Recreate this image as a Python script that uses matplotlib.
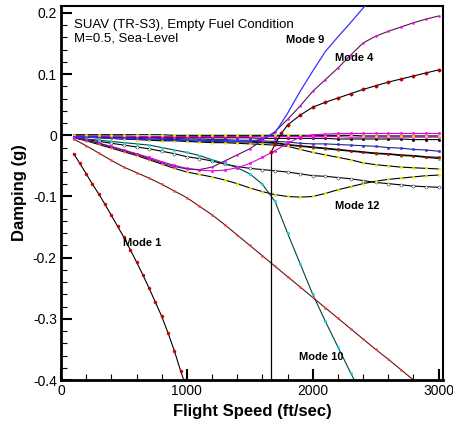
import matplotlib
matplotlib.use('Agg')
import matplotlib.pyplot as plt
from matplotlib.ticker import MultipleLocator

plt.rcParams['font.family'] = ['Liberation Sans', 'DejaVu Sans']

# ---- data (speed in ft/sec, damping g) ----
speed = [100, 200, 300, 400, 500, 600, 700, 800, 900, 1000,
         1100, 1200, 1300, 1400, 1500, 1600, 1700, 1800, 1900, 2000,
         2100, 2200, 2300, 2400, 2500, 2600, 2700, 2800, 2900, 3000]

mode4 = [-0.003, -0.008, -0.013, -0.019, -0.025, -0.031, -0.038, -0.045, -0.051, -0.055,
         -0.056, -0.052, -0.042, -0.032, -0.022, -0.008, 0.006, 0.026, 0.048, 0.072,
         0.091, 0.110, 0.131, 0.151, 0.162, 0.170, 0.177, 0.184, 0.190, 0.195]
pink = [-0.003, -0.008, -0.013, -0.018, -0.024, -0.030, -0.036, -0.043, -0.049, -0.054,
        -0.057, -0.058, -0.057, -0.053, -0.046, -0.036, -0.025, -0.013, -0.003, 0.001,
        0.002, 0.003, 0.003, 0.003, 0.003, 0.003, 0.003, 0.003, 0.003, 0.003]
mode12 = [-0.004, -0.009, -0.015, -0.021, -0.027, -0.033, -0.040, -0.047, -0.054, -0.060,
          -0.064, -0.068, -0.073, -0.079, -0.086, -0.092, -0.097, -0.100, -0.101, -0.100,
          -0.095, -0.089, -0.084, -0.079, -0.075, -0.072, -0.070, -0.068, -0.066, -0.065]
open_black = [-0.004, -0.007, -0.010, -0.013, -0.016, -0.019, -0.022, -0.026, -0.030, -0.035,
              -0.038, -0.042, -0.047, -0.051, -0.054, -0.056, -0.058, -0.060, -0.063, -0.066,
              -0.067, -0.069, -0.071, -0.074, -0.077, -0.079, -0.081, -0.083, -0.084, -0.085]
yellow2 = [-0.002, -0.003, -0.004, -0.005, -0.006, -0.007, -0.008, -0.009, -0.009, -0.010,
           -0.011, -0.012, -0.012, -0.013, -0.014, -0.015, -0.016, -0.018, -0.023, -0.028,
           -0.032, -0.036, -0.040, -0.045, -0.048, -0.050, -0.052, -0.053, -0.054, -0.055]
green = [-0.002, -0.003, -0.004, -0.005, -0.006, -0.006, -0.007, -0.008, -0.008, -0.009,
         -0.009, -0.010, -0.010, -0.011, -0.011, -0.012, -0.013, -0.016, -0.018, -0.020,
         -0.022, -0.024, -0.026, -0.028, -0.030, -0.031, -0.033, -0.034, -0.036, -0.038]
red_flat = [-0.001, -0.002, -0.003, -0.004, -0.005, -0.005, -0.006, -0.007, -0.007, -0.008,
            -0.008, -0.009, -0.009, -0.010, -0.010, -0.011, -0.012, -0.015, -0.017, -0.019,
            -0.021, -0.023, -0.025, -0.027, -0.029, -0.030, -0.032, -0.033, -0.035, -0.036]
blue_flat = [-0.001, -0.002, -0.002, -0.003, -0.003, -0.004, -0.004, -0.005, -0.005, -0.006,
             -0.006, -0.007, -0.007, -0.008, -0.008, -0.009, -0.010, -0.011, -0.013, -0.014,
             -0.014, -0.015, -0.016, -0.017, -0.018, -0.020, -0.021, -0.023, -0.024, -0.026]
yellow_zero = [0.001, 0.001, 0.001, 0.001, 0.001, 0.001, 0.001, 0.001, 0.000, 0.000,
               0.000, 0.000, 0.000, 0.000, 0.000, 0.000, 0.000, 0.000, 0.000, 0.000,
               0.000, 0.000, 0.000, -0.001, -0.001, -0.001, -0.001, -0.001, -0.001, -0.001]
pink_flat = [-0.001, -0.001, -0.001, -0.001, -0.001, -0.002, -0.002, -0.002, -0.002, -0.002,
             -0.002, -0.002, -0.002, -0.002, -0.002, -0.002, -0.002, -0.002, -0.002, -0.002,
             -0.002, -0.002, -0.003, -0.003, -0.003, -0.003, -0.003, -0.003, -0.003, -0.003]
black_flat = [-0.002, -0.002, -0.003, -0.003, -0.003, -0.003, -0.003, -0.004, -0.004, -0.004,
              -0.004, -0.004, -0.004, -0.004, -0.004, -0.005, -0.005, -0.005, -0.005, -0.005,
              -0.005, -0.006, -0.006, -0.006, -0.006, -0.006, -0.006, -0.007, -0.007, -0.007]

mode1_speed = [100, 150, 200, 250, 300, 350, 400, 450, 500, 550,
               600, 650, 700, 750, 800, 850, 900, 950, 975]
mode1 = [-0.030, -0.046, -0.063, -0.080, -0.096, -0.113, -0.131, -0.149, -0.167, -0.187,
         -0.207, -0.228, -0.250, -0.273, -0.296, -0.323, -0.352, -0.385, -0.400]

red_speed = speed[:28]
red_line = [-0.006, -0.017, -0.029, -0.041, -0.052, -0.061, -0.070, -0.080, -0.091, -0.102,
            -0.116, -0.130, -0.146, -0.163, -0.180, -0.197, -0.214, -0.231, -0.248, -0.265,
            -0.282, -0.299, -0.316, -0.333, -0.350, -0.366, -0.383, -0.400]

mode10_speed = speed[:23] + [2330]
mode10 = [-0.004, -0.006, -0.008, -0.010, -0.012, -0.014, -0.016, -0.020, -0.024, -0.028,
          -0.033, -0.040, -0.046, -0.053, -0.063, -0.080, -0.108, -0.160, -0.210, -0.260,
          -0.304, -0.346, -0.388, -0.400]

mode9_speed = speed[:25]
mode9 = [-0.002, -0.003, -0.004, -0.005, -0.005, -0.006, -0.007, -0.007, -0.008, -0.008,
         -0.009, -0.009, -0.010, -0.010, -0.010, -0.006, 0.004, 0.036, 0.072, 0.105,
         0.137, 0.161, 0.184, 0.208, 0.232]

rise_speed = [1670, 1700, 1750, 1800, 1900, 2000, 2100, 2200,
              2300, 2400, 2500, 2600, 2700, 2800, 2900, 3000]
rise = [-0.027, -0.015, 0.003, 0.017, 0.033, 0.046, 0.054, 0.061,
        0.068, 0.075, 0.081, 0.087, 0.092, 0.097, 0.102, 0.107]

jump_speed = [1670, 1670]
jump = [-0.027, -0.400]

labels = ['Mode 9', 'Mode 4', 'Mode 12', 'Mode 1', 'Mode 10']
label_pos = [(1790, 0.156), (2180, 0.127), (2180, -0.116), (490, -0.176), (1890, -0.362)]
title_lines = ['SUAV (TR-S3), Empty Fuel Condition', 'M=0.5, Sea-Level']

fig = plt.figure(figsize=(4.53, 4.28), dpi=100)
ax = fig.add_axes([0.1347, 0.1121, 0.8433, 0.8739])


def curve(x, y, lc, mc, ms=1.8, mfc=None, lw=0.8, marker='o', z=2):
    ax.plot(x, y, color=lc, lw=lw, marker=marker, ms=ms,
            mfc=mfc if mfc else mc, mec=mc, mew=0.3, zorder=z, clip_on=True)


curve(speed, black_flat, 'black', 'black')
curve(speed, green, 'black', '#33dd33')
curve(speed, red_flat, 'black', '#cc0000')
curve(speed, blue_flat, '#222266', '#3333ff')
curve(speed, yellow2, 'black', '#eeee00')
curve(speed, pink_flat, '#cc00cc', '#ff00ff')
curve(speed, yellow_zero, 'black', '#eeee00')
curve(speed, open_black, 'black', 'black', ms=2.2, mfc='white')
curve(speed, mode12, 'black', '#eeee00')
curve(mode10_speed, mode10, '#004444', '#00e0e0')
curve(speed, pink, '#dd00dd', '#ff00ff')
curve(speed, mode4, '#551155', '#ff00ff', ms=1.5, z=3)
ax.plot(mode9_speed, mode9, color='#3333ff', lw=0.9, zorder=3)
curve(red_speed, red_line, '#661111', '#ff4444', ms=1.6)
curve(mode1_speed, mode1, 'black', '#cc0000', ms=2.2)
ax.plot(jump_speed, jump, color='black', lw=0.9, zorder=3)
curve(rise_speed, rise, 'black', '#aa0000', ms=2.4, z=4)

for text, (lx, ly) in zip(labels, label_pos):
    ax.text(lx, ly, text, fontsize=8, fontweight='bold', ha='left', va='center')

for i, line in enumerate(title_lines):
    ax.text(0.035, 0.965 - i * 0.036, line, transform=ax.transAxes,
            fontsize=9.5, ha='left', va='top')

ax.set_xlim(0, 3035)
ax.set_ylim(-0.4, 0.2114)
ax.xaxis.set_major_locator(MultipleLocator(1000))
ax.xaxis.set_minor_locator(MultipleLocator(200))
ax.yaxis.set_major_locator(MultipleLocator(0.1))
ax.yaxis.set_minor_locator(MultipleLocator(0.02))
ax.yaxis.set_major_formatter(plt.FuncFormatter(lambda v, p: '0' if abs(v) < 1e-9 else f'{v:.1f}'))
ax.tick_params(which='major', direction='in', length=8, width=1.5, labelsize=10, pad=3)
ax.tick_params(which='minor', direction='in', length=4, width=0.8)
ax.tick_params(top=False, right=False, which='both')
for side in ['left', 'bottom']:
    ax.spines[side].set_linewidth(2)
for side in ['top', 'right']:
    ax.spines[side].set_linewidth(1.5)

ax.set_xlabel('Flight Speed (ft/sec)', fontsize=12, fontweight='bold', labelpad=4)
ax.set_ylabel('Damping (g)', fontsize=12, fontweight='bold', labelpad=4)

fig.savefig('out.png', dpi=100)
